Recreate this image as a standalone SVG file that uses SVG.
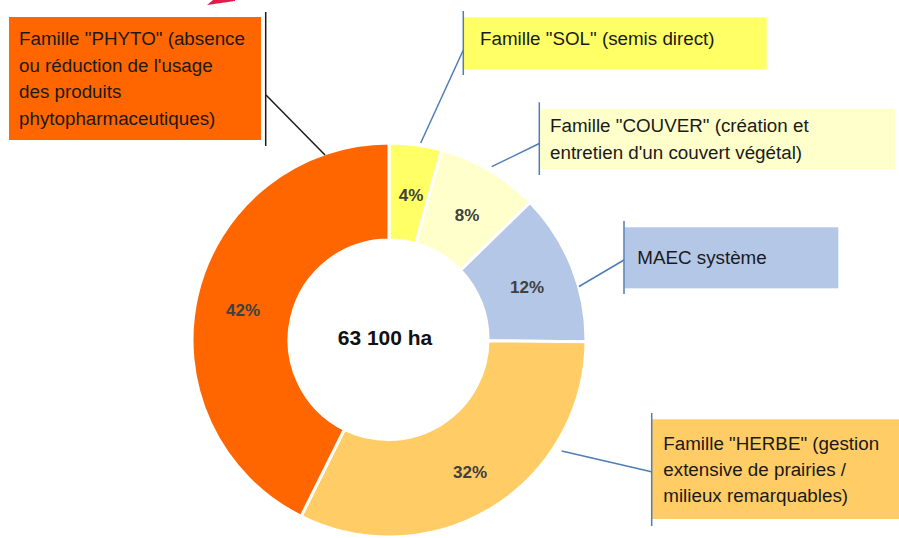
<svg xmlns="http://www.w3.org/2000/svg" width="899" height="538" viewBox="0 0 899 538">
<style>
.slice{stroke:#fff;stroke-width:3}
.lbl{font-family:"Liberation Sans",Arial,sans-serif;font-size:18.8px;fill:#1a1a1a}
.pct{font-family:"Liberation Sans",Arial,sans-serif;font-size:17px;font-weight:bold;fill:#404040;text-anchor:middle}
.lead{stroke:#4F7DB3;stroke-width:1.5;fill:none}
.leadk{stroke:#1a1a1a;stroke-width:1.5;fill:none}
</style>
<rect width="899" height="538" fill="#fff"/>
<polygon points="207,5 213,0 235,0 235,1" fill="#E6194B"/>
<g id="donut">
<path id="s-sol" class="slice" fill="#FFFF66" d="M389,143 A197,197 0 0 1 441.65,150.17 L415.72,243.64 A100,100 0 0 0 389,240 Z"/>
<path id="s-couver" class="slice" fill="#FFFFCC" d="M441.65,150.17 A197,197 0 0 1 530.03,202.45 L460.59,270.18 A100,100 0 0 0 415.72,243.64 Z"/>
<path id="s-maec" class="slice" fill="#B4C7E7" d="M530.03,202.45 A197,197 0 0 1 585.99,341.72 L488,340.87 A100,100 0 0 0 460.59,270.18 Z"/>
<path id="s-herbe" class="slice" fill="#FFCC66" d="M585.99,341.72 A197,197 0 0 1 301.1,516.3 L344.38,429.49 A100,100 0 0 0 488,340.87 Z"/>
<path id="s-phyto" class="slice" fill="#FF6600" d="M301.1,516.3 A197,197 0 0 1 389,143 L389,240 A100,100 0 0 0 344.38,429.49 Z"/>
<text class="pct" x="411" y="201">4%</text>
<text class="pct" x="467" y="221">8%</text>
<text class="pct" x="527" y="293">12%</text>
<text class="pct" x="470" y="478">32%</text>
<text class="pct" x="243" y="316">42%</text>
<text x="385" y="345" font-family="'Liberation Sans',Arial,sans-serif" font-size="21" font-weight="bold" fill="#111" text-anchor="middle">63 100 ha</text>
</g>
<g id="connectors">
<path class="leadk" d="M266,95 L325,155"/>
<path class="lead" d="M463.3,50 L420.7,143"/>
<path class="lead" d="M539.3,143.5 L491.7,166.7"/>
<path class="lead" d="M624,260 L579,286.5"/>
<path class="lead" d="M651.5,471.7 L561.7,451"/>
</g>
<g id="n-phyto">
<rect x="9" y="17" width="252" height="123" fill="#FF6600"/>
<line class="leadk" x1="265.7" y1="12" x2="265.7" y2="146"/>
<text class="lbl"><tspan x="19" y="45">Famille "PHYTO" (absence</tspan><tspan x="19" y="71.7">ou réduction de l'usage</tspan><tspan x="19" y="98.3">des produits</tspan><tspan x="19" y="125">phytopharmaceutiques)</tspan></text>
</g>
<g id="n-sol">
<rect x="463.3" y="17.3" width="303.4" height="52" fill="#FFFF66"/>
<line class="lead" x1="463.3" y1="11" x2="463.3" y2="75"/>
<text class="lbl" x="480" y="45">Famille "SOL" (semis direct)</text>
</g>
<g id="n-couver">
<rect x="539.3" y="109" width="355.7" height="60" fill="#FFFFCC"/>
<line class="lead" x1="539.3" y1="102.3" x2="539.3" y2="175"/>
<text class="lbl"><tspan x="550" y="132.3">Famille "COUVER" (création et</tspan><tspan x="550" y="159.3">entretien d'un couvert végétal)</tspan></text>
</g>
<g id="n-maec">
<rect x="624.5" y="227.3" width="213.8" height="61" fill="#B4C7E7"/>
<line class="lead" x1="624" y1="221" x2="624" y2="294"/>
<text class="lbl" x="637.3" y="264">MAEC système</text>
</g>
<g id="n-herbe">
<rect x="651.7" y="419.3" width="247.3" height="99.7" fill="#FFCC66"/>
<line class="lead" x1="651.7" y1="413" x2="651.7" y2="526"/>
<text class="lbl"><tspan x="663.3" y="450">Famille "HERBE" (gestion</tspan><tspan x="663.3" y="476">extensive de prairies /</tspan><tspan x="663.3" y="501.7">milieux remarquables)</tspan></text>
</g>
</svg>
